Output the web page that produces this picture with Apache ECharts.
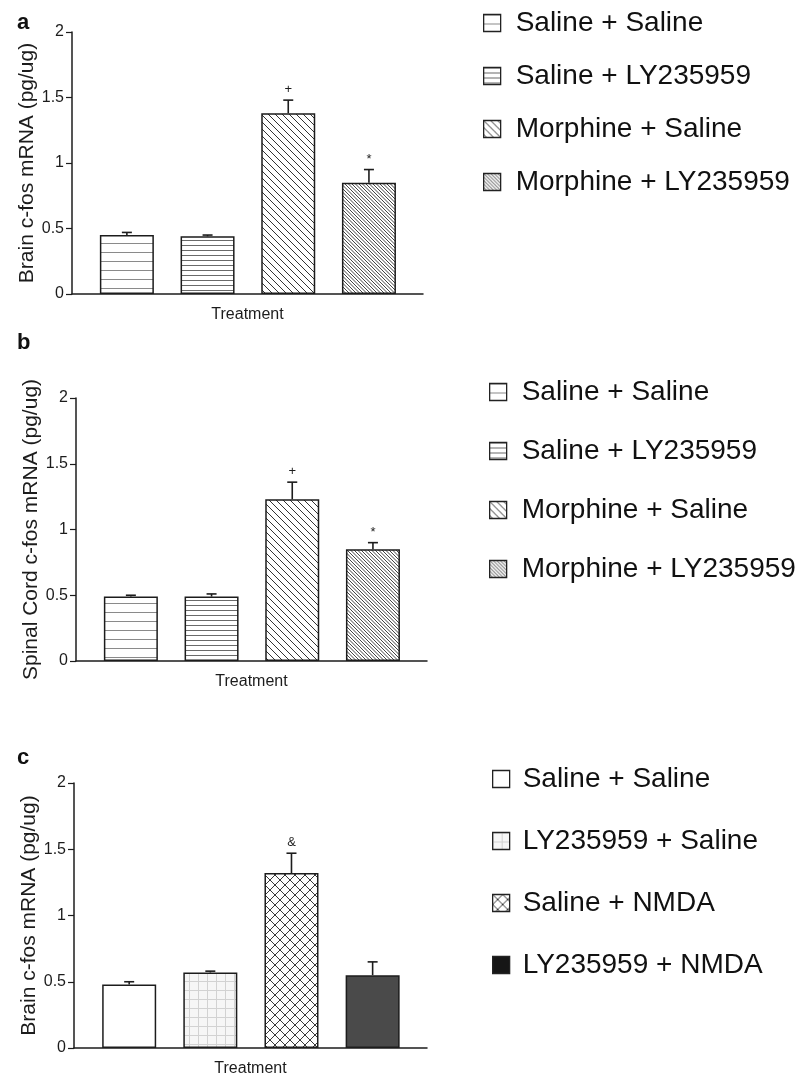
<!DOCTYPE html>
<html><head><meta charset="utf-8">
<script src="https://cdn.jsdelivr.net/npm/echarts@6/dist/echarts.min.js"></script>
<style>html,body{margin:0;padding:0;background:#fff}#chart{width:804px;height:1078px}</style>
</head><body><div id="chart"></div>
<script>
// ---------- data ----------
const namesAB = ['Saline + Saline', 'Saline + LY235959', 'Morphine + Saline', 'Morphine + LY235959'];
const namesC  = ['Saline + Saline', 'LY235959 + Saline', 'Saline + NMDA', 'LY235959 + NMDA'];

const brainMean  = [0.45, 0.44, 1.38, 0.85];
const brainSem   = [0.02, 0.01, 0.10, 0.10];
const brainMarks = ['', '', '+', '*'];

const spinalMean  = [0.49, 0.49, 1.23, 0.85];
const spinalSem   = [0.01, 0.02, 0.13, 0.05];
const spinalMarks = ['', '', '+', '*'];

const nmdaMean  = [0.48, 0.57, 1.32, 0.55];
const nmdaSem   = [0.02, 0.01, 0.15, 0.10];
const nmdaMarks = ['', '', '&', ''];

const yTickValues = [0, 0.5, 1, 1.5, 2];
const panelLetters = ['a', 'b', 'c'];
const yTitles = ['Brain c-fos mRNA (pg/ug)', 'Spinal Cord c-fos mRNA (pg/ug)', 'Brain c-fos mRNA (pg/ug)'];
const xTitle = 'Treatment';

// ---------- fill patterns ----------
function tile(w, h, bg, draw) {
  const c = document.createElement('canvas'); c.width = w; c.height = h;
  const g = c.getContext('2d'); g.fillStyle = bg; g.fillRect(0, 0, w, h);
  if (draw) draw(g, w, h);
  return { image: c, repeat: 'repeat' };
}
function hLines(step, col) {
  return tile(8, step, '#fff', (g, w) => { g.fillStyle = col; g.fillRect(0, 0, w, 1); });
}
function diag(size, count, col, cross, bg) {
  return tile(size, size, bg || '#fff', (g, w, h) => {
    g.strokeStyle = col; g.lineWidth = 1; g.beginPath();
    const st = size / count;
    for (let k = -count - 1; k <= 2 * count + 1; k++) {
      const o = k * st;
      g.moveTo(o - 1 - size, -1 - size); g.lineTo(o + size + 1, h + 1);
      if (cross) { g.moveTo(o - 1 - size, h + 1 + size); g.lineTo(o + size + 1, -1); }
    }
    g.stroke();
  });
}
function grid(step, col, bg) {
  return tile(step, step, bg, (g, w, h) => { g.fillStyle = col; g.fillRect(0, 0, w, 1); g.fillRect(0, 0, 1, h); });
}
const fillsAB = [hLines(9, '#8a8a8a'), hLines(5, '#6a6a6a'), diag(7, 1, '#333'), diag(7, 2, '#444')];
const fillsC  = ['#ffffff', grid(9, '#d2d2d2', '#f6f6f6'), diag(10, 1, '#3a3a3a', true), '#4a4a4a'];
const legendFillOverride = [null, null, null, null, null, null, null, null, null, null, null, '#161616'];

// ---------- layout ----------
const grids = [
  { left: 72, top: 32,  width: 351, height: 262 },
  { left: 76, top: 398, width: 351, height: 263 },
  { left: 74, top: 783, width: 353, height: 265 }
];
const panels = [
  { names: namesAB, mean: brainMean,  sem: brainSem,  marks: brainMarks,  fills: fillsAB },
  { names: namesAB, mean: spinalMean, sem: spinalSem, marks: spinalMarks, fills: fillsAB },
  { names: namesC,  mean: nmdaMean,   sem: nmdaSem,   marks: nmdaMarks,   fills: fillsC }
];
const legendPos = [
  { left: 483, top: 9,   gap: 25, pad: 10 },
  { left: 489, top: 378, gap: 31, pad: 10 },
  { left: 492, top: 765, gap: 34, pad: 8 }
];
const ink = '#1c1c1c';

const xAxes = [], yAxes = [], series = [], legends = [], titles = [];
panels.forEach((p, pi) => {
  const key = panelLetters[pi] + '|';
  xAxes.push({
    gridIndex: pi, type: 'value', min: -0.68, max: 3.67,
    axisLine: { show: true, onZero: false, lineStyle: { color: ink, width: 1.5 } },
    axisTick: { show: false }, axisLabel: { show: false }, splitLine: { show: false },
    name: xTitle, nameLocation: 'middle', nameGap: 13,
    nameTextStyle: { fontSize: 16, color: ink }
  });
  yAxes.push({
    gridIndex: pi, type: 'value', min: yTickValues[0], max: yTickValues[yTickValues.length - 1],
    interval: yTickValues[1] - yTickValues[0],
    axisLine: { show: true, onZero: false, lineStyle: { color: ink, width: 1.5 } },
    axisTick: { show: true, length: 6, lineStyle: { color: ink, width: 1.2 } },
    axisLabel: { fontSize: 16, color: ink, margin: 8 },
    splitLine: { show: false },
    name: yTitles[pi], nameLocation: 'middle', nameGap: 32,
    nameTextStyle: { fontSize: 21, color: ink }
  });
  p.names.forEach((n, i) => {
    series.push({
      type: 'bar', name: key + n, xAxisIndex: pi, yAxisIndex: pi,
      data: [[i, p.mean[i]]], barWidth: 54, barGap: '-100%',
      itemStyle: { color: p.fills[i], borderColor: ink, borderWidth: 1.5 },
      emphasis: { disabled: true }, silent: true
    });
  });
  const marks = p.marks;
  series.push({
    type: 'custom', xAxisIndex: pi, yAxisIndex: pi, z: 5, silent: true,
    data: p.mean.map((m, i) => [i, m, +(m + p.sem[i]).toFixed(3)]),
    encode: { x: 0, y: 2 },
    renderItem: (params, api) => {
      const x = api.value(0);
      const base = api.coord([x, api.value(1)]);
      const top = api.coord([x, api.value(2)]);
      const st = { stroke: ink, lineWidth: 1.6 };
      const ch = [
        { type: 'line', shape: { x1: base[0], y1: base[1], x2: top[0], y2: top[1] }, style: st },
        { type: 'line', shape: { x1: top[0] - 5, y1: top[1], x2: top[0] + 5, y2: top[1] }, style: st }
      ];
      const mk = marks[params.dataIndex];
      if (mk) ch.push({ type: 'text', style: { text: mk, x: top[0], y: top[1] - 4, align: 'center', verticalAlign: 'bottom', fontSize: 13, fontFamily: 'Liberation Sans, Arial, sans-serif', fill: ink } });
      return { type: 'group', children: ch };
    }
  });
  const lp = legendPos[pi];
  legends.push({
    orient: 'vertical', left: lp.left, top: lp.top, padding: 0,
    icon: 'rect',
    itemWidth: 17, itemHeight: 17, itemGap: lp.gap, selectedMode: false,
    data: p.names.map((n, i) => {
      const o = legendFillOverride[pi * 4 + i];
      return o ? { name: key + n, itemStyle: { color: o } } : { name: key + n };
    }),
    formatter: nm => nm.split('|')[1],
    textStyle: { fontSize: 28, color: '#111', padding: [0, 0, 0, lp.pad] },
    itemStyle: { borderColor: '#222', borderWidth: 1.3 }
  });
  titles.push({
    text: panelLetters[pi], left: 12, top: [7, 327, 742][pi],
    textStyle: { fontSize: 22, fontWeight: 'bold', color: '#111' }
  });
});

const chart = echarts.init(document.getElementById('chart'));
chart.setOption({
  backgroundColor: '#fff',
  animation: false,
  textStyle: { fontFamily: 'Liberation Sans, Arial, Helvetica, sans-serif' },
  title: titles,
  legend: legends,
  grid: grids,
  xAxis: xAxes,
  yAxis: yAxes,
  series: series
});
</script></body></html>
